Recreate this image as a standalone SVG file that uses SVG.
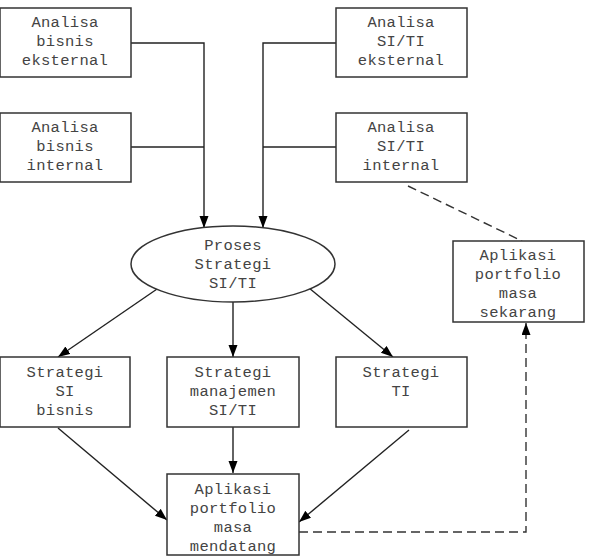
<svg xmlns="http://www.w3.org/2000/svg" width="589" height="557" viewBox="0 0 589 557">
<style>
.box{fill:#fff;stroke:#333;stroke-width:1.5}
.t{font-family:"Liberation Mono","DejaVu Sans Mono",monospace;font-size:15.5px;fill:#444;text-anchor:middle;letter-spacing:0.3px}
.ln{fill:none;stroke:#222;stroke-width:1.4}
.dash{fill:none;stroke:#333;stroke-width:1.4;stroke-dasharray:9,5}
</style>
<defs>
<marker id="ah" markerUnits="userSpaceOnUse" markerWidth="13" markerHeight="10" refX="12" refY="4.5" orient="auto">
<path d="M0,0 L12,4.5 L0,9 z" fill="#000"/>
</marker>
</defs>
<rect width="589" height="557" fill="#fff"/>
<g id="connectors">
<polyline class="ln" points="131,43 204,43 204,228" marker-end="url(#ah)"/>
<line class="ln" x1="131" y1="147" x2="204" y2="147"/>
<polyline class="ln" points="336,43 263,43 263,228" marker-end="url(#ah)"/>
<line class="ln" x1="336" y1="147" x2="263" y2="147"/>
<line class="ln" x1="160" y1="287" x2="58" y2="357" marker-end="url(#ah)"/>
<line class="ln" x1="233" y1="302" x2="233" y2="357" marker-end="url(#ah)"/>
<line class="ln" x1="309" y1="288" x2="393" y2="357" marker-end="url(#ah)"/>
<line class="ln" x1="58" y1="428" x2="167" y2="520" marker-end="url(#ah)"/>
<line class="ln" x1="233" y1="427" x2="233" y2="473" marker-end="url(#ah)"/>
<line class="ln" x1="409" y1="430" x2="299" y2="522" marker-end="url(#ah)"/>
<line class="dash" x1="408" y1="186" x2="522" y2="241"/>
<polyline class="dash" points="299,532 526,532 526,323" marker-end="url(#ah)"/>
</g>
<g id="n1"><rect class="box" x="0" y="8" width="131" height="69"/>
<text class="t" x="65" y="27">Analisa</text><text class="t" x="65" y="46">bisnis</text><text class="t" x="65" y="65">eksternal</text></g>
<g id="n2"><rect class="box" x="0" y="113" width="131" height="69"/>
<text class="t" x="65" y="132">Analisa</text><text class="t" x="65" y="151">bisnis</text><text class="t" x="65" y="170">internal</text></g>
<g id="n3"><rect class="box" x="336" y="8" width="131" height="69"/>
<text class="t" x="401" y="27">Analisa</text><text class="t" x="401" y="46">SI/TI</text><text class="t" x="401" y="65">eksternal</text></g>
<g id="n4"><rect class="box" x="336" y="113" width="131" height="69"/>
<text class="t" x="401" y="132">Analisa</text><text class="t" x="401" y="151">SI/TI</text><text class="t" x="401" y="170">internal</text></g>
<g id="n5"><ellipse class="box" cx="233" cy="264" rx="102" ry="38"/>
<text class="t" x="233" y="250">Proses</text><text class="t" x="233" y="269">Strategi</text><text class="t" x="233" y="288">SI/TI</text></g>
<g id="n6"><rect class="box" x="453" y="241" width="131" height="81"/>
<text class="t" x="518" y="260">Aplikasi</text><text class="t" x="518" y="279">portfolio</text><text class="t" x="518" y="298">masa</text><text class="t" x="518" y="317">sekarang</text></g>
<g id="n7"><rect class="box" x="0" y="357" width="130" height="70"/>
<text class="t" x="65" y="377">Strategi</text><text class="t" x="65" y="396">SI</text><text class="t" x="65" y="415">bisnis</text></g>
<g id="n8"><rect class="box" x="167" y="357" width="132" height="70"/>
<text class="t" x="233" y="377">Strategi</text><text class="t" x="233" y="396">manajemen</text><text class="t" x="233" y="415">SI/TI</text></g>
<g id="n9"><rect class="box" x="336" y="357" width="131" height="70"/>
<text class="t" x="401" y="377">Strategi</text><text class="t" x="401" y="396">TI</text></g>
<g id="n10"><rect class="box" x="167" y="474" width="132" height="81"/>
<text class="t" x="233" y="494">Aplikasi</text><text class="t" x="233" y="513">portfolio</text><text class="t" x="233" y="532">masa</text><text class="t" x="233" y="551">mendatang</text></g>
</svg>
